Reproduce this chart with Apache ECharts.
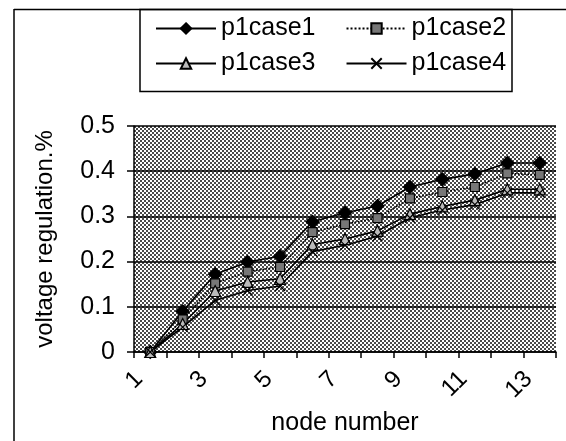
<!DOCTYPE html>
<html><head><meta charset="utf-8">
<script src="https://cdn.jsdelivr.net/npm/echarts@6/dist/echarts.min.js"></script>
<style>html,body{margin:0;padding:0;background:#fff}#c{width:566px;height:441px}</style>
</head><body><div id="c"></div>
<script>
var categories = ['1','2','3','4','5','6','7','8','9','10','11','12','13'];
var p1case1 = [0, 0.09, 0.172, 0.199, 0.212, 0.288, 0.308, 0.323, 0.365, 0.382, 0.394, 0.418, 0.418];
var p1case2 = [0, 0.072, 0.152, 0.178, 0.188, 0.265, 0.283, 0.296, 0.34, 0.354, 0.365, 0.395, 0.392];
var p1case3 = [0, 0.062, 0.135, 0.155, 0.162, 0.238, 0.25, 0.268, 0.305, 0.322, 0.336, 0.36, 0.36];
var p1case4 = [0, 0.055, 0.114, 0.136, 0.146, 0.222, 0.236, 0.256, 0.297, 0.314, 0.326, 0.352, 0.352];
var yTicks = [0, 0.1, 0.2, 0.3, 0.4, 0.5];

var pc = document.createElement('canvas');
pc.width = 4; pc.height = 4;
var g = pc.getContext('2d');
g.fillStyle = '#ffffff'; g.fillRect(0,0,4,4);
g.fillStyle = '#4a4a4a'; g.fillRect(0,0,2,2); g.fillRect(2,2,2,2);

var FONT = 'Liberation Sans';
var xPath = 'path://M0,0L10,10M10,0L0,10';
var chart = echarts.init(document.getElementById('c'), null, {renderer:'canvas'});
function mk(name, data, symbol, size, lineType, fill) {
  return {
    name: name, type: 'line', data: data, symbol: symbol, symbolSize: size,
    showSymbol: true,
    lineStyle: {color:'#000', width:1.6, type: lineType},
    itemStyle: {color: fill, borderColor:'#000', borderWidth: 1.2},
    emphasis: {disabled:true}, animation:false
  };
}
var legText = {fontFamily:FONT, fontSize:25, color:'#000'};
chart.setOption({
  animation: false,
  textStyle: {fontFamily: FONT},
  grid: {left:134, right:10, top:126, bottom:86, show:true, backgroundColor:{image:pc, repeat:'repeat'}, borderWidth:0},
  legend: [
    {data:['p1case1','p1case2'], left:155, top:16, padding:0, itemWidth:60, itemHeight:13, itemGap:30,
     textStyle:legText, inactiveColor:'#000'},
    {data:['p1case3','p1case4'], left:155, top:51, padding:0, itemWidth:60, itemHeight:13, itemGap:30,
     textStyle:legText, inactiveColor:'#000'}
  ],
  xAxis: {
    type:'category', data: categories, boundaryGap:true,
    name:'node number', nameLocation:'middle', nameGap:59,
    nameTextStyle:{fontFamily:FONT, fontSize:25, color:'#000'},
    axisLine:{lineStyle:{color:'#000', width:1.5}},
    axisTick:{show:true, alignWithLabel:false, interval:0, length:6, lineStyle:{color:'#000', width:1.5}},
    axisLabel:{interval:1, rotate:45, fontFamily:FONT, fontSize:24, color:'#000', margin:12, padding:[0,16,0,0]},
    splitLine:{show:false}
  },
  yAxis: {
    type:'value', min: yTicks[0], max: yTicks[yTicks.length-1], interval: 0.1,
    name:'voltage regulation.%', nameLocation:'middle', nameGap:77, nameRotate:90,
    nameTextStyle:{fontFamily:FONT, fontSize:24, color:'#000'},
    axisLine:{show:true, lineStyle:{color:'#000', width:1.5}},
    axisTick:{show:true, length:7, lineStyle:{color:'#000', width:1.5}},
    axisLabel:{fontFamily:FONT, fontSize:25, color:'#000', margin:19,
      formatter:function(v){return String(Math.round(v*10)/10);}},
    splitLine:{show:true, lineStyle:{color:'#000', width:1.5}}
  },
  graphic: [
    {type:'line', shape:{x1:14, y1:9.5, x2:566, y2:9.5}, style:{stroke:'#000', lineWidth:1.5}},
    {type:'line', shape:{x1:14, y1:9, x2:14, y2:441}, style:{stroke:'#000', lineWidth:1.5}},
    {type:'rect', shape:{x:140, y:9.5, width:372, height:82}, style:{fill:'none', stroke:'#000', lineWidth:1.5}}
  ],
  series: [
    mk('p1case1', p1case1, 'diamond', 13, 'solid', '#000'),
    mk('p1case2', p1case2, 'rect', 9, 'dotted', '#777'),
    mk('p1case3', p1case3, 'triangle', 11, 'solid', '#bbb'),
    mk('p1case4', p1case4, xPath, 10, 'solid', '#000')
  ]
});
</script></body></html>
